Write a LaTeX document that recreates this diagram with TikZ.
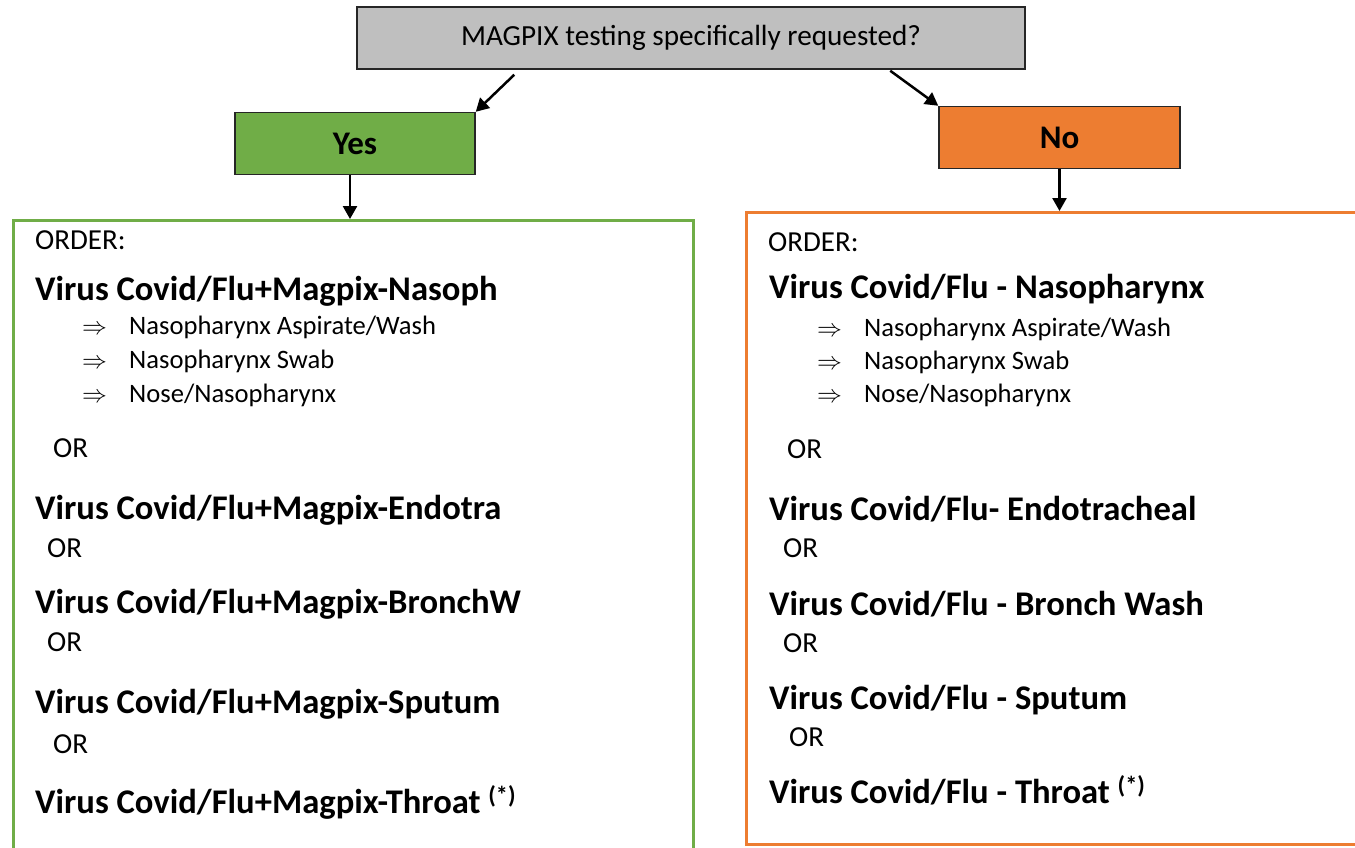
\documentclass[tikz,border=0pt]{standalone}
\usepackage{amsmath}
\usepackage{fontspec}
\setmainfont{Carlito}
\usetikzlibrary{arrows.meta}
\definecolor{askgrey}{HTML}{BFBFBF}
\definecolor{yesgreen}{HTML}{70AD47}
\definecolor{noorange}{HTML}{ED7D31}
\newcommand{\orditem}[1]{\makebox[47pt][l]{$\Rightarrow$}#1}

\begin{document}
\begin{tikzpicture}[x=1pt,y=-1pt,
          box/.style = {draw=black!85,line width=1.5pt,inner sep=0pt,minimum height=62pt},
          flow/.style = {line width=2.5pt,-{Triangle[length=13pt,width=14pt]}},
          panel/.style = {line width=3pt,inner sep=0pt,anchor=north west},
          head/.style = {anchor=base west,inner sep=0pt,font=\fontsize{34.6}{38}\selectfont\bfseries},
          plain/.style = {anchor=base west,inner sep=0pt,font=\fontsize{29}{32}\selectfont},
          sub/.style = {anchor=base west,inner sep=0pt,font=\fontsize{26.6}{30}\selectfont}
          ]
 \useasboundingbox (0,0) rectangle (1355,847);
 \clip (0,0) rectangle (1355,847);
          % question and answers
          \node[box,fill=askgrey,minimum width=668pt,font=\fontsize{29.2}{32}\selectfont] (@ask) at (691,38) {MAGPIX testing specifically requested?};
          \node[box,fill=yesgreen,minimum width=240pt,font=\fontsize{33}{36}\selectfont\bfseries] (@yes) at (355,143.5) {Yes};
          \node[box,fill=noorange,minimum width=241pt,font=\fontsize{33}{36}\selectfont\bfseries] (@no) at (1059.5,137.5) {No};
          \node[panel,draw=yesgreen,minimum width=680pt,minimum height=700pt] (@left) at (12,219) {};
          \node[panel,draw=noorange,minimum width=640pt,minimum height=632pt] (@right) at (745,211) {};
          \draw[flow] ([xshift=158pt,yshift=-5pt]@ask.south west) -- (@yes.north east);
          \draw[flow] ([xshift=534pt,yshift=-1pt]@ask.south west) -- (@no.north west);
          \draw[flow] ([xshift=-5pt]@yes.south) -- ([xshift=-5pt]@yes.south |- @left.north);
          \draw[flow] (@no.south) -- (@no.south |- @right.north);
          % left column
          \node[plain] (@lorder) at (35,249) {ORDER:};
          \node[head] (@lnaso) at (35,300) {Virus Covid/Flu+Magpix-Nasoph};
          \node[sub] (@lasp) at (82,334) {\orditem{Nasopharynx Aspirate/Wash}};
          \node[sub] (@lswab) at (82,368) {\orditem{Nasopharynx Swab}};
          \node[sub] (@lnose) at (82,402) {\orditem{Nose/Nasopharynx}};
          \node[plain] (@lor1) at (53,457) {OR};
          \node[head] (@lendo) at (35,519) {Virus Covid/Flu+Magpix-Endotra};
          \node[plain] (@lor2) at (47,557) {OR};
          \node[head] (@lbron) at (35,613) {Virus Covid/Flu+Magpix-BronchW};
          \node[plain] (@lor3) at (47,651) {OR};
          \node[head] (@lsput) at (35,713) {Virus Covid/Flu+Magpix-Sputum};
          \node[plain] (@lor4) at (53,753) {OR};
          \node[head] (@lthro) at (35,813) {Virus Covid/Flu+Magpix-Throat \textsuperscript{(*)}};
          % right column
          \node[plain] (@rorder) at (768,251) {ORDER:};
          \node[head] (@rnaso) at (769,298) {Virus Covid/Flu - Nasopharynx};
          \node[sub] (@rasp) at (817,336) {\orditem{Nasopharynx Aspirate/Wash}};
          \node[sub] (@rswab) at (817,369) {\orditem{Nasopharynx Swab}};
          \node[sub] (@rnose) at (817,402) {\orditem{Nose/Nasopharynx}};
          \node[plain] (@ror1) at (787,458) {OR};
          \node[head] (@rendo) at (769,520) {Virus Covid/Flu- Endotracheal};
          \node[plain] (@ror2) at (783,557) {OR};
          \node[head] (@rbron) at (769,615) {Virus Covid/Flu - Bronch Wash};
          \node[plain] (@ror3) at (783,652) {OR};
          \node[head] (@rsput) at (769,709) {Virus Covid/Flu - Sputum};
          \node[plain] (@ror4) at (789,746) {OR};
          \node[head] (@rthro) at (769,803) {Virus Covid/Flu - Throat \textsuperscript{(*)}};
        \end{tikzpicture}
\end{document}
